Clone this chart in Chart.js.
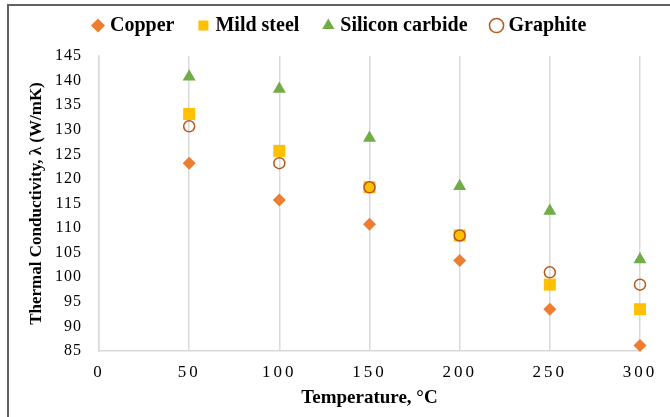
<!DOCTYPE html>
<html>
<head>
<meta charset="utf-8">
<script src="https://cdn.jsdelivr.net/npm/chart.js@4/dist/chart.umd.min.js"></script>
<style>
html,body{margin:0;padding:0;background:#fff;}
#wrap{width:670px;height:417px;position:relative;}
</style>
</head>
<body>
<div id="wrap"><canvas id="c" width="670" height="417"></canvas></div>
<script>
// ---- data ----
const temperatures = [50, 100, 150, 200, 250, 300];
const copper        = [123.2, 115.7, 110.8, 103.4, 93.5, 86.1];
const mildSteel     = [133.2, 125.7, 118.3, 108.5, 98.5, 93.5];
const siliconCarbide= [140.8, 138.3, 128.3, 118.5, 113.5, 103.6];
const graphite      = [130.7, 123.2, 118.3, 108.5, 101.0, 98.5];
const seriesNames   = ['Copper', 'Mild steel', 'Silicon carbide', 'Graphite'];
const xTickValues   = [0, 50, 100, 150, 200, 250, 300];
const yTickValues   = [85, 90, 95, 100, 105, 110, 115, 120, 125, 130, 135, 140, 145];
const xTitle = 'Temperature, °C';
const yTitle = 'Thermal Conductivity, λ (W/mK)';

const toPts = (vals) => vals.map((v, i) => ({x: temperatures[i], y: v}));

const frame = {
  id: 'frame',
  beforeDraw(chart) {
    const ctx = chart.ctx;
    ctx.save();
    ctx.fillStyle = '#616161';
    ctx.fillRect(7, 4, 663, 2);
    ctx.fillRect(7, 4, 2, 413);
    ctx.restore();
  }
};

const tweaks = {
  id: 'tweaks',
  beforeLayout(chart) {
    const lg = chart.legend;
    if (lg && !lg._patched) {
      const origFit = lg.fit;
      lg.fit = function () { origFit.call(this); this.height = 56; };
      lg._patched = true;
    }
  },
  afterLayout(chart) {
    const lg = chart.legend;
    if (lg) { lg.left = 69; lg.top = -11.5; }
    ['x', 'y'].forEach(id => {
      const s = chart.scales[id];
      if (s && !s._spaced) {
        const orig = s.drawLabels;
        s.drawLabels = function (area) {
          const ctx = this.ctx;
          ctx.save();
          ctx.letterSpacing = id === 'x' ? '3px' : '1px';
          orig.call(this, area);
          ctx.restore();
        };
        s._spaced = true;
      }
    });
  }
};

new Chart(document.getElementById('c'), {
  type: 'scatter',
  data: {
    datasets: [
      {label: seriesNames[0], data: toPts(copper), pointStyle: 'rectRot', pointRadius: 6.5,
       backgroundColor: '#ED7D31', borderColor: '#ED7D31', borderWidth: 0, order: 4, clip: false},
      {label: seriesNames[1], data: toPts(mildSteel), pointStyle: 'rect', pointRadius: 8.5,
       backgroundColor: '#FFC000', borderColor: '#FFC000', borderWidth: 0, order: 3, clip: false},
      {label: seriesNames[2], data: toPts(siliconCarbide), pointStyle: 'triangle', pointRadius: 7.5,
       backgroundColor: '#70AD47', borderColor: '#70AD47', borderWidth: 0, order: 2, clip: false},
      {label: seriesNames[3], data: toPts(graphite), pointStyle: 'circle', pointRadius: 5.5,
       backgroundColor: 'rgba(255,255,255,0)', borderColor: '#B5581C', borderWidth: 1.5, order: 1, clip: false}
    ]
  },
  options: {
    responsive: false,
    animation: false,
    devicePixelRatio: 1,
    layout: {padding: {left: 10, right: 30, top: 0, bottom: 0}},
    plugins: {
      tooltip: {enabled: false},
      legend: {
        position: 'top',
        align: 'start',
        labels: {
          usePointStyle: true,
          boxWidth: 4,
          boxHeight: 10,
          padding: 27,
          color: '#000',
          font: {family: '"Liberation Serif", "Times New Roman", serif', size: 20, weight: 'bold'},
          sort: (a, b) => a.datasetIndex - b.datasetIndex
        }
      }
    },
    scales: {
      x: {
        type: 'linear',
        min: 0, max: 300,
        afterBuildTicks: (s) => { s.ticks = xTickValues.map(v => ({value: v})); },
        afterFit: (s) => { s.height = 66; },
        grid: {display: true, color: '#d9d9d9', lineWidth: 1.5, drawTicks: false},
        border: {display: true, color: '#d9d9d9', width: 1.5},
        ticks: {padding: 11, color: '#000', maxRotation: 0,
                font: {family: '"Liberation Serif", "Times New Roman", serif', size: 17}},
        title: {display: true, text: xTitle, color: '#000', padding: {top: 0, bottom: 8},
                font: {family: '"Liberation Serif", "Times New Roman", serif', size: 19, weight: 'bold'}}
      },
      y: {
        type: 'linear',
        min: 85, max: 145,
        afterBuildTicks: (s) => { s.ticks = yTickValues.map(v => ({value: v})); },
        afterFit: (s) => { s.width = 89; },
        grid: {display: false, drawTicks: false},
        border: {display: true, color: '#d9d9d9', width: 1.5},
        ticks: {padding: 17, color: '#000',
                font: {family: '"Liberation Serif", "Times New Roman", serif', size: 16}},
        title: {display: true, text: yTitle, color: '#000', padding: {top: 16, bottom: 0},
                font: {family: '"Liberation Serif", "Times New Roman", serif', size: 17, weight: 'bold'}}
      }
    }
  },
  plugins: [frame, tweaks]
});
</script>
</body>
</html>
